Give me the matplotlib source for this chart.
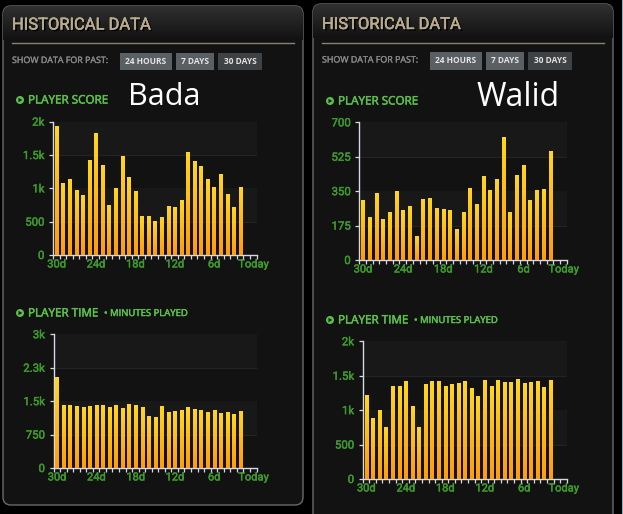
#!/usr/bin/env python3
"""Historical data panels, Bada vs Walid"""

import matplotlib
matplotlib.use('Agg')
import matplotlib.pyplot as plt
import matplotlib.patches as patches
import matplotlib.patheffects as pe
from matplotlib.colors import LinearSegmentedColormap
import numpy as np

plt.rcParams['font.family'] = ['Roboto', 'DejaVu Sans']

# 30d ... 2d, no bars for the last two slots
bada_score = [1935, 1075, 1140, 975, 900, 1425, 1825, 1350, 750, 1000, 1485, 1165, 960, 585, 585,
              510, 570, 735, 720, 825, 1545, 1410, 1335, 1140, 1020, 1215, 915, 720, 1020]
bada_time = [2020, 1400, 1400, 1380, 1360, 1380, 1400, 1400, 1360, 1400, 1335, 1425, 1400, 1360, 1160,
             1135, 1380, 1245, 1270, 1290, 1360, 1315, 1290, 1245, 1290, 1225, 1245, 1200, 1270]
walid_score = [305, 214, 336, 208, 239, 346, 254, 270, 122, 310, 315, 264, 259, 254, 153,
               239, 361, 280, 427, 351, 407, 625, 244, 432, 478, 305, 351, 356, 554]
walid_time = [1220, 872, 988, 755, 1337, 1337, 1409, 1060, 755, 1366, 1409, 1409, 1337, 1366, 1380,
              1409, 1308, 1191, 1424, 1337, 1424, 1395, 1395, 1438, 1380, 1395, 1409, 1322, 1424]

x_labels = ['30d', '24d', '18d', '12d', '6d', 'Today']
x_label_pos = [0, 6, 12, 18, 24, 30]
bada_score_ticks = [0, 500, 1000, 1500, 2000]
bada_score_labels = ['0', '500', '1k', '1.5k', '2k']
bada_time_ticks = [0, 750, 1500, 2250, 3000]
bada_time_labels = ['0', '750', '1.5k', '2.3k', '3k']
walid_score_ticks = [0, 175, 350, 525, 700]
walid_score_labels = ['0', '175', '350', '525', '700']
walid_time_ticks = [0, 500, 1000, 1500, 2000]
walid_time_labels = ['0', '500', '1k', '1.5k', '2k']

W, H = 623, 514
GREEN = '#5cc04a'
TICK_GREEN = '#3f9a2c'
AXIS = '#d5d8e6'
PANEL = '#121212'
BAND = '#181818'
bar_cmap = LinearSegmentedColormap.from_list('bar', ['#ffd621', '#ff9c0c'])
head_cmap = LinearSegmentedColormap.from_list('head', ['#303030', PANEL])

fig = plt.figure(figsize=(W / 100, H / 100), dpi=100, facecolor='black')
bg = fig.add_axes([0, 0, 1, 1])
bg.set_xlim(0, W)
bg.set_ylim(H, 0)
bg.axis('off')


def thicken(text, color, lw=0.35):
    # the source font is heavier than what is installed
    text.set_path_effects([pe.withStroke(linewidth=lw, foreground=color)])


def draw_panel(x0, y0, x1, y1):
    box = patches.FancyBboxPatch((x0 + 8, y0 + 8), x1 - x0 - 16, y1 - y0 - 16,
                                 boxstyle='round,pad=8,rounding_size=8',
                                 facecolor=PANEL, edgecolor='#6a6a6a', linewidth=1.0)
    bg.add_patch(box)
    # lighter top of the panel
    grad = np.linspace(0, 1, 40).reshape(-1, 1)
    im = bg.imshow(grad, cmap=head_cmap, extent=(x0, x1, y0 + 34, y0), aspect='auto', zorder=1.5)
    im.set_clip_path(box)
    bg.set_xlim(0, W)
    bg.set_ylim(H, 0)


def draw_header(x, y):
    """x is the left text edge, y the top of the panel rule"""
    t = bg.text(x, y - 18, 'HISTORICAL DATA', fontsize=11.9, color='#b8aa8c', family='Roboto',
                va='center', ha='left', zorder=3)
    t.set_path_effects([pe.withSimplePatchShadow(offset=(1.2, -1.2), shadow_rgbFace='black', alpha=1.0),
                        pe.withStroke(linewidth=0.3, foreground='#b8aa8c')])
    bg.plot([x, x + 282], [y, y], color='#8c8270', lw=1.0, zorder=3)
    t = bg.text(x, y + 17.5, 'SHOW DATA FOR PAST:', fontsize=6.4, color='#868686', family='Open Sans',
                va='center', ha='left', zorder=3)
    thicken(t, '#868686', 0.25)
    buttons = [('24 HOURS', 108, 160, '#5a5f63'), ('7 DAYS', 164, 202, '#5a5f63'),
               ('30 DAYS', 206, 250, '#3e4245')]
    for label, b0, b1, col in buttons:
        bg.add_patch(patches.Rectangle((x + b0, y + 9.5), b1 - b0, 17.5, facecolor=col, edgecolor='none', zorder=3))
        bg.text(x + (b0 + b1) / 2, y + 18, label, fontsize=6.0, color='#e4e4e4', weight='bold',
                family='Open Sans', va='center', ha='center', zorder=4)


def section_title(x, y, title, sub=None, sub_x=None):
    bg.add_patch(patches.Circle((x - 8, y), 4, facecolor=GREEN, edgecolor='none', zorder=3))
    bg.add_patch(patches.Polygon([(x - 9.5, y - 2.2), (x - 9.5, y + 2.2), (x - 5.8, y)],
                                 facecolor=PANEL, edgecolor='none', zorder=4))
    t = bg.text(x, y, title, fontsize=8.4, color=GREEN, family='Open Sans',
                va='center', ha='left', zorder=3)
    thicken(t, GREEN)
    if sub:
        t = bg.text(sub_x, y + 0.5, sub, fontsize=6.85, color=GREEN, family='Open Sans',
                    va='center', ha='left', zorder=3)
        thicken(t, GREEN)


def draw_chart(left, right, top, bottom, values, ticks, labels):
    ax = fig.add_axes([left / W, 1 - bottom / H, (right - left) / W, (bottom - top) / H])
    ax.patch.set_alpha(0)
    bars = ax.bar(range(len(values)), values, width=0.52, color='none', zorder=3)
    grad = np.linspace(0, 1, 64).reshape(-1, 1)
    for bar in bars:
        x0, w, h = bar.get_x(), bar.get_width(), bar.get_height()
        ax.imshow(grad, cmap=bar_cmap, extent=(x0, x0 + w, 0, h), aspect='auto', zorder=3)

    # alternating bands and grid lines
    for i in range(len(ticks) - 1):
        if i % 2 == 1:
            ax.axhspan(ticks[i], ticks[i + 1], facecolor=BAND, edgecolor='none', zorder=1)
    ax.set_axisbelow(True)
    ax.grid(axis='y', color='#242424', lw=0.8, zorder=2)

    ax.set_xlim(-0.55, 30.45)
    ax.set_ylim(0, ticks[-1])
    ax.set_yticks(ticks)
    ax.set_yticklabels(labels)
    ax.set_xticks(x_label_pos)
    ax.set_xticklabels(x_labels)
    ax.set_xticks(np.arange(-0.55, 31), minor=True)
    ax.tick_params(axis='y', colors=AXIS, labelcolor=TICK_GREEN, labelsize=8.2, length=3.2, width=0.9, pad=3)
    ax.tick_params(axis='x', which='major', length=0, labelcolor=TICK_GREEN, labelsize=8.0, pad=3.2)
    ax.tick_params(axis='x', which='minor', colors=AXIS, length=3, width=0.9)
    for lab in ax.get_xticklabels() + ax.get_yticklabels():
        thicken(lab, TICK_GREEN, 0.3)
    for s in ['top', 'right']:
        ax.spines[s].set_visible(False)
    for s in ['left', 'bottom']:
        ax.spines[s].set_color(AXIS)
        ax.spines[s].set_linewidth(1.0)
    return ax


# panels
draw_panel(3, 6, 303, 505)
draw_panel(313, 4, 613, 530)
bg.add_patch(patches.Rectangle((621.5, 0), 1.5, H, facecolor='#8fb0bf', edgecolor='none'))

draw_header(12, 43)
draw_header(322, 42.5)

section_title(28, 100, 'PLAYER SCORE')
section_title(338, 101, 'PLAYER SCORE')
section_title(28, 313, 'PLAYER TIME', '• MINUTES PLAYED', 104)
section_title(338, 320, 'PLAYER TIME', '• MINUTES PLAYED', 414)

bg.text(164.5, 97, 'Bada', fontsize=22, color='white', family='Open Sans', va='center', ha='center', zorder=3)
bg.text(518, 98, 'Walid', fontsize=23, color='white', family='Open Sans', va='center', ha='center', zorder=3)

# charts
draw_chart(53, 256.5, 121.7, 255, bada_score, bada_score_ticks, bada_score_labels)
draw_chart(53.5, 256.5, 334.3, 468, bada_time, bada_time_ticks, bada_time_labels)
draw_chart(359.3, 566.7, 122.3, 260, walid_score, walid_score_ticks, walid_score_labels)
draw_chart(362.7, 566.7, 341.3, 479, walid_time, walid_time_ticks, walid_time_labels)

plt.savefig('out.png', dpi=100, facecolor=fig.get_facecolor())
plt.close()
